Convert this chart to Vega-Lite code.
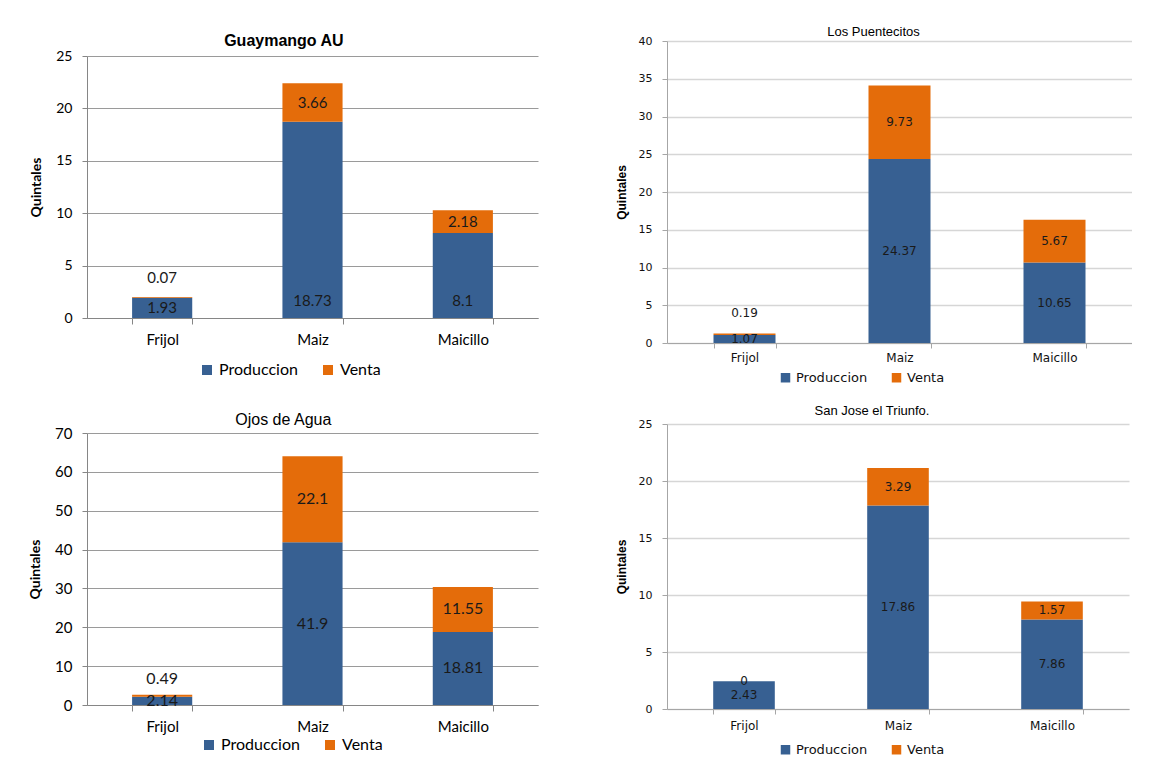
{
  "$schema": "https://vega.github.io/schema/vega-lite/v6.json",
  "background": "white",
  "padding": {"left": 28, "top": 26, "right": 0, "bottom": 0},
  "config": {
    "view": {"stroke": null}
  },
  "datasets": {
    "d": [
      {"panel": "A", "cultivo": "Frijol", "serie": "Produccion", "valor": 1.93},
      {"panel": "A", "cultivo": "Frijol", "serie": "Venta", "valor": 0.07},
      {"panel": "A", "cultivo": "Maiz", "serie": "Produccion", "valor": 18.73},
      {"panel": "A", "cultivo": "Maiz", "serie": "Venta", "valor": 3.66},
      {"panel": "A", "cultivo": "Maicillo", "serie": "Produccion", "valor": 8.1},
      {"panel": "A", "cultivo": "Maicillo", "serie": "Venta", "valor": 2.18},
      {"panel": "B", "cultivo": "Frijol", "serie": "Produccion", "valor": 1.07},
      {"panel": "B", "cultivo": "Frijol", "serie": "Venta", "valor": 0.19},
      {"panel": "B", "cultivo": "Maiz", "serie": "Produccion", "valor": 24.37},
      {"panel": "B", "cultivo": "Maiz", "serie": "Venta", "valor": 9.73},
      {"panel": "B", "cultivo": "Maicillo", "serie": "Produccion", "valor": 10.65},
      {"panel": "B", "cultivo": "Maicillo", "serie": "Venta", "valor": 5.67},
      {"panel": "C", "cultivo": "Frijol", "serie": "Produccion", "valor": 2.14},
      {"panel": "C", "cultivo": "Frijol", "serie": "Venta", "valor": 0.49},
      {"panel": "C", "cultivo": "Maiz", "serie": "Produccion", "valor": 41.9},
      {"panel": "C", "cultivo": "Maiz", "serie": "Venta", "valor": 22.1},
      {"panel": "C", "cultivo": "Maicillo", "serie": "Produccion", "valor": 18.81},
      {"panel": "C", "cultivo": "Maicillo", "serie": "Venta", "valor": 11.55},
      {"panel": "D", "cultivo": "Frijol", "serie": "Produccion", "valor": 2.43},
      {"panel": "D", "cultivo": "Frijol", "serie": "Venta", "valor": 0},
      {"panel": "D", "cultivo": "Maiz", "serie": "Produccion", "valor": 17.86},
      {"panel": "D", "cultivo": "Maiz", "serie": "Venta", "valor": 3.29},
      {"panel": "D", "cultivo": "Maicillo", "serie": "Produccion", "valor": 7.86},
      {"panel": "D", "cultivo": "Maicillo", "serie": "Venta", "valor": 1.57}
    ]
  },
  "resolve": {"scale": {"color": "independent", "y": "independent", "x": "independent"}, "legend": {"color": "independent"}},
  "spacing": 77,
  "hconcat": [
    {
      "spacing": 34,
      "resolve": {"scale": {"color": "independent", "y": "independent", "x": "independent"}, "legend": {"color": "independent"}},
      "vconcat": [
        {
          "width": 451, "height": 277,
          "title": {"text": "Guaymango AU", "font": "Liberation Sans", "fontSize": 16, "fontWeight": "bold", "color": "#000000", "frame": "bounds", "anchor": "middle", "offset": -8},
          "data": {"name": "d"},
          "transform": [
            {"filter": "datum.panel == 'A'"},
            {"stack": "valor", "groupby": ["cultivo"], "sort": [{"field": "serie"}], "as": ["v0", "v1"]},
            {"calculate": "(datum.v0 + datum.v1) / 2", "as": "mid"}
          ],
          "resolve": {"axis": {"y": "independent"}},
          "encoding": {
            "x": {"field": "cultivo", "type": "nominal", "sort": ["Frijol", "Maiz", "Maicillo"], "scale": {"paddingInner": 0.6, "paddingOuter": 0.3},
              "axis": {"title": null, "labelAngle": 0, "labelFont": "Lato", "labelFontSize": 15, "labelColor": "#000000", "labelPadding": 8, "tickBand": "extent", "tickColor": "#868686", "tickSize": 6, "domainColor": "#868686", "grid": false}}
          },
          "layer": [
            {
              "mark": {"type": "bar"},
              "encoding": {
                "y": {"field": "v0", "type": "quantitative", "title": "Quintales", "scale": {"domain": [0, 25], "nice": false, "range": [277, 15]},
                  "axis": {"values": [0, 5, 10, 15, 20, 25], "titleFont": "Lato", "titleFontWeight": "bold", "titleFontSize": 14, "titleColor": "#000000", "titlePadding": 12, "labelFont": "Lato", "labelFontSize": 14, "labelColor": "#000000", "labelPadding": 10, "tickSize": 5, "tickColor": "#868686", "domainColor": "#868686", "gridColor": "#9a9a9a", "grid": true}},
                "y2": {"field": "v1"},
                "color": {"field": "serie", "type": "nominal", "scale": {"domain": ["Produccion", "Venta"], "range": ["#376092", "#E46C0A"]},
                  "legend": {"orient": "none", "legendX": 112, "legendY": 321, "direction": "horizontal", "title": null, "symbolType": "square", "symbolSize": 100, "symbolStrokeWidth": 0, "labelFont": "Lato", "labelFontSize": 16, "labelColor": "#000000", "columnPadding": 22}}
              }
            },
            {
              "transform": [{"filter": "(datum.serie == 'Venta' && datum.cultivo != 'Frijol') || (datum.serie == 'Produccion' && datum.cultivo == 'Frijol')"}],
              "mark": {"type": "text", "font": "Lato", "fontSize": 15, "color": "#1a1a1a", "baseline": "middle"},
              "encoding": {"y": {"field": "mid", "type": "quantitative", "axis": null}, "text": {"field": "valor", "type": "nominal"}}
            },
            {
              "transform": [{"filter": "datum.serie == 'Produccion' && datum.cultivo != 'Frijol'"}],
              "mark": {"type": "text", "font": "Lato", "fontSize": 15, "color": "#1a1a1a", "baseline": "middle", "dy": -17},
              "encoding": {"y": {"field": "v0", "type": "quantitative", "axis": null}, "text": {"field": "valor", "type": "nominal"}}
            },
            {
              "transform": [{"filter": "datum.serie == 'Venta' && datum.cultivo == 'Frijol'"}],
              "mark": {"type": "text", "font": "Lato", "fontSize": 15, "color": "#1a1a1a", "baseline": "middle", "dy": -19},
              "encoding": {"y": {"field": "v1", "type": "quantitative", "axis": null}, "text": {"field": "valor", "type": "nominal"}}
            }
          ]
        },
        {
          "width": 451, "height": 272,
          "title": {"text": "Ojos de Agua", "font": "Liberation Sans Narrow, Liberation Sans", "fontSize": 16, "fontWeight": "normal", "color": "#000000", "frame": "bounds", "anchor": "middle", "offset": -2},
          "data": {"name": "d"},
          "transform": [
            {"filter": "datum.panel == 'C'"},
            {"stack": "valor", "groupby": ["cultivo"], "sort": [{"field": "serie"}], "as": ["v0", "v1"]},
            {"calculate": "(datum.v0 + datum.v1) / 2", "as": "mid"}
          ],
          "resolve": {"axis": {"y": "independent"}},
          "encoding": {
            "x": {"field": "cultivo", "type": "nominal", "sort": ["Frijol", "Maiz", "Maicillo"], "scale": {"paddingInner": 0.6, "paddingOuter": 0.3},
              "axis": {"title": null, "labelAngle": 0, "labelFont": "Lato", "labelFontSize": 15, "labelColor": "#000000", "labelPadding": 8, "tickBand": "extent", "tickColor": "#868686", "tickSize": 6, "domainColor": "#868686", "grid": false}}
          },
          "layer": [
            {
              "mark": {"type": "bar"},
              "encoding": {
                "y": {"field": "v0", "type": "quantitative", "title": "Quintales", "scale": {"domain": [0, 70], "nice": false},
                  "axis": {"values": [0, 10, 20, 30, 40, 50, 60, 70], "titleFont": "Lato", "titleFontWeight": "bold", "titleFontSize": 14, "titleColor": "#000000", "titlePadding": 12, "labelFont": "Lato", "labelFontSize": 15, "labelColor": "#000000", "labelPadding": 10, "tickSize": 5, "tickColor": "#868686", "domainColor": "#868686", "gridColor": "#9a9a9a", "grid": true}},
                "y2": {"field": "v1"},
                "color": {"field": "serie", "type": "nominal", "scale": {"domain": ["Produccion", "Venta"], "range": ["#376092", "#E46C0A"]},
                  "legend": {"orient": "none", "legendX": 114, "legendY": 304, "direction": "horizontal", "title": null, "symbolType": "square", "symbolSize": 100, "symbolStrokeWidth": 0, "labelFont": "Lato", "labelFontSize": 16, "labelColor": "#000000", "columnPadding": 22}}
              }
            },
            {
              "transform": [{"filter": "!(datum.serie == 'Venta' && datum.cultivo == 'Frijol')"}],
              "mark": {"type": "text", "font": "Lato", "fontSize": 16, "color": "#1a1a1a", "baseline": "middle"},
              "encoding": {"y": {"field": "mid", "type": "quantitative", "axis": null}, "text": {"field": "valor", "type": "nominal"}}
            },
            {
              "transform": [{"filter": "datum.serie == 'Venta' && datum.cultivo == 'Frijol'"}],
              "mark": {"type": "text", "font": "Lato", "fontSize": 16, "color": "#1a1a1a", "baseline": "middle", "dy": -16},
              "encoding": {"y": {"field": "v1", "type": "quantitative", "axis": null}, "text": {"field": "valor", "type": "nominal"}}
            }
          ]
        }
      ]
    },
    {
      "spacing": 20,
      "resolve": {"scale": {"color": "independent", "y": "independent", "x": "independent"}, "legend": {"color": "independent"}},
      "vconcat": [
        {
          "width": 465, "height": 302,
          "title": {"text": "Los Puentecitos", "font": "Liberation Sans", "fontSize": 13, "fontWeight": "normal", "color": "#000000", "frame": "bounds", "anchor": "middle", "offset": -4},
          "data": {"name": "d"},
          "transform": [
            {"filter": "datum.panel == 'B'"},
            {"stack": "valor", "groupby": ["cultivo"], "sort": [{"field": "serie"}], "as": ["v0", "v1"]},
            {"calculate": "(datum.v0 + datum.v1) / 2", "as": "mid"}
          ],
          "resolve": {"axis": {"y": "independent"}},
          "encoding": {
            "x": {"field": "cultivo", "type": "nominal", "sort": ["Frijol", "Maiz", "Maicillo"], "scale": {"paddingInner": 0.6, "paddingOuter": 0.3},
              "axis": {"title": null, "labelAngle": 0, "labelFont": "DejaVu Sans", "labelFontSize": 12, "labelColor": "#111111", "labelPadding": 4, "tickBand": "extent", "tickColor": "#a6a6a6", "tickSize": 5, "domainColor": "#a6a6a6", "grid": false}}
          },
          "layer": [
            {
              "mark": {"type": "bar"},
              "encoding": {
                "y": {"field": "v0", "type": "quantitative", "title": "Quintales", "scale": {"domain": [0, 40], "nice": false},
                  "axis": {"values": [0, 5, 10, 15, 20, 25, 30, 35, 40], "titleFont": "Liberation Sans Narrow, Liberation Sans", "titleFontWeight": "bold", "titleFontSize": 12, "titleColor": "#000000", "titlePadding": 10, "labelFont": "DejaVu Sans", "labelFontSize": 11, "labelColor": "#111111", "labelPadding": 10, "tickSize": 5, "tickColor": "#a6a6a6", "domainColor": "#a6a6a6", "gridColor": "#d6d6d6", "gridWidth": 1.5, "grid": true}},
                "y2": {"field": "v1"},
                "color": {"field": "serie", "type": "nominal", "scale": {"domain": ["Produccion", "Venta"], "range": ["#376092", "#E46C0A"]},
                  "legend": {"orient": "none", "legendX": 112, "legendY": 330, "direction": "horizontal", "title": null, "symbolType": "square", "symbolSize": 90, "symbolStrokeWidth": 0, "labelFont": "DejaVu Sans", "labelFontSize": 13, "labelColor": "#111111", "columnPadding": 22}}
              }
            },
            {
              "transform": [{"filter": "!(datum.serie == 'Venta' && datum.cultivo == 'Frijol')"}],
              "mark": {"type": "text", "font": "DejaVu Sans", "fontSize": 12, "color": "#1a1a1a", "baseline": "middle"},
              "encoding": {"y": {"field": "mid", "type": "quantitative", "axis": null}, "text": {"field": "valor", "type": "nominal"}}
            },
            {
              "transform": [{"filter": "datum.serie == 'Venta' && datum.cultivo == 'Frijol'"}],
              "mark": {"type": "text", "font": "DejaVu Sans", "fontSize": 12, "color": "#1a1a1a", "baseline": "middle", "dy": -20},
              "encoding": {"y": {"field": "v1", "type": "quantitative", "axis": null}, "text": {"field": "valor", "type": "nominal"}}
            }
          ]
        },
        {
          "width": 462, "height": 285,
          "title": {"text": "San Jose el Triunfo.", "font": "Liberation Sans", "fontSize": 13, "fontWeight": "normal", "color": "#000000", "frame": "bounds", "anchor": "middle", "offset": 0},
          "data": {"name": "d"},
          "transform": [
            {"filter": "datum.panel == 'D'"},
            {"stack": "valor", "groupby": ["cultivo"], "sort": [{"field": "serie"}], "as": ["v0", "v1"]},
            {"calculate": "(datum.v0 + datum.v1) / 2", "as": "mid"}
          ],
          "resolve": {"axis": {"y": "independent"}},
          "encoding": {
            "x": {"field": "cultivo", "type": "nominal", "sort": ["Frijol", "Maiz", "Maicillo"], "scale": {"paddingInner": 0.6, "paddingOuter": 0.3},
              "axis": {"title": null, "labelAngle": 0, "labelFont": "DejaVu Sans", "labelFontSize": 12, "labelColor": "#111111", "labelPadding": 6, "tickBand": "extent", "tickColor": "#a6a6a6", "tickSize": 5, "domainColor": "#a6a6a6", "grid": false}}
          },
          "layer": [
            {
              "mark": {"type": "bar"},
              "encoding": {
                "y": {"field": "v0", "type": "quantitative", "title": "Quintales", "scale": {"domain": [0, 25], "nice": false},
                  "axis": {"values": [0, 5, 10, 15, 20, 25], "titleFont": "Liberation Sans Narrow, Liberation Sans", "titleFontWeight": "bold", "titleFontSize": 12, "titleColor": "#000000", "titlePadding": 10, "labelFont": "DejaVu Sans", "labelFontSize": 11, "labelColor": "#111111", "labelPadding": 10, "tickSize": 5, "tickColor": "#a6a6a6", "domainColor": "#a6a6a6", "gridColor": "#d6d6d6", "gridWidth": 1.5, "grid": true}},
                "y2": {"field": "v1"},
                "color": {"field": "serie", "type": "nominal", "scale": {"domain": ["Produccion", "Venta"], "range": ["#376092", "#E46C0A"]},
                  "legend": {"orient": "none", "legendX": 112, "legendY": 319, "direction": "horizontal", "title": null, "symbolType": "square", "symbolSize": 90, "symbolStrokeWidth": 0, "labelFont": "DejaVu Sans", "labelFontSize": 13, "labelColor": "#111111", "columnPadding": 22}}
              }
            },
            {
              "mark": {"type": "text", "font": "DejaVu Sans", "fontSize": 12, "color": "#1a1a1a", "baseline": "middle"},
              "encoding": {"y": {"field": "mid", "type": "quantitative", "axis": null}, "text": {"field": "valor", "type": "nominal"}}
            }
          ]
        }
      ]
    }
  ]
}
